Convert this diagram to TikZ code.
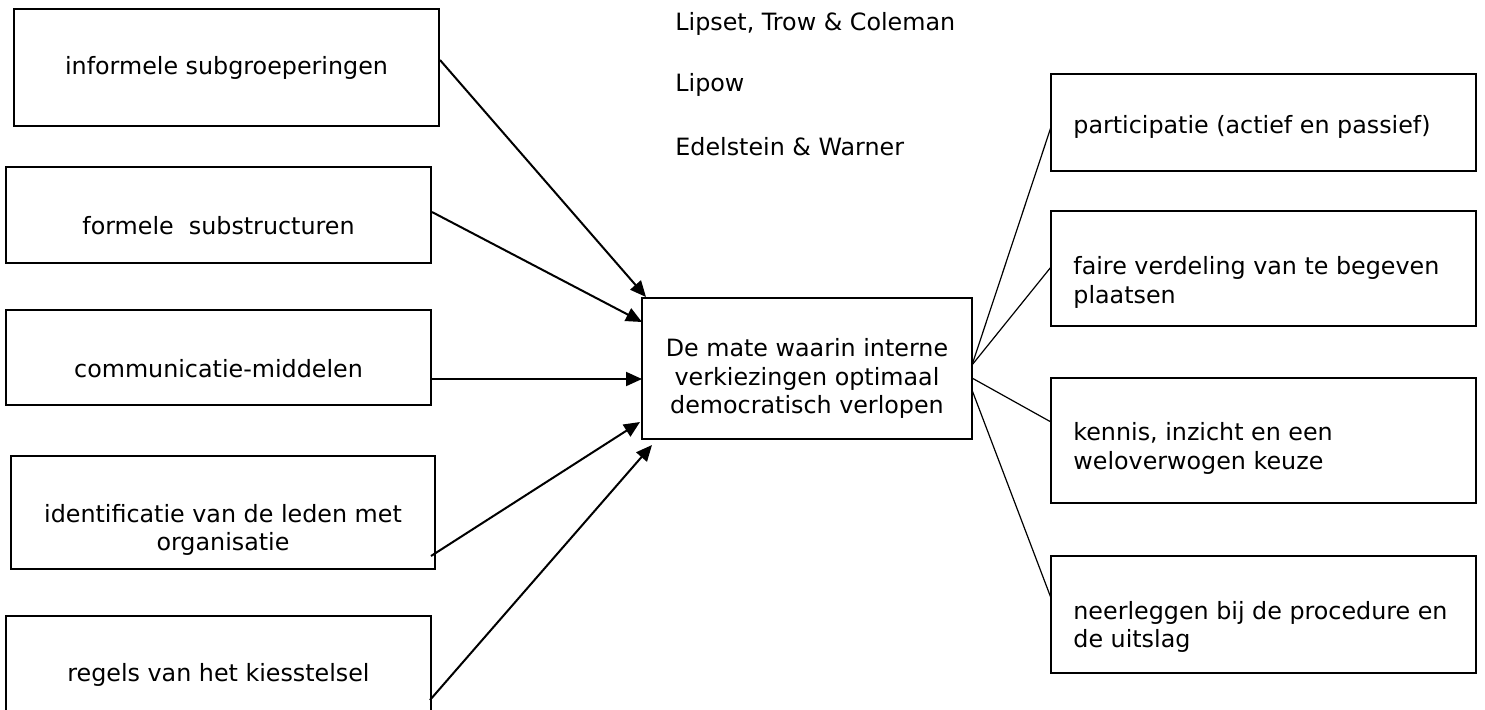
\documentclass[tikz,border=0pt]{standalone}
\usepackage{fontspec}
\setmainfont{DejaVu Sans}
\usetikzlibrary{arrows.meta}
\begin{document}
\begin{tikzpicture}[x=0.5pt,y=-0.5pt,
  boxnode/.style={draw=black,line width=0.8pt,minimum width=212.5pt,inner sep=0pt},
  txt/.style={font=\fontsize{11.9pt}{14.4pt}\selectfont,inner sep=0pt,align=center},
  ltxt/.style={txt,anchor=west,align=left},
  arr/.style={line width=1pt,-{Triangle[length=8pt,width=7pt]}},
  thin/.style={line width=0.6pt}]
\useasboundingbox (0,0) rectangle (1485,709);
\clip (0,0) rectangle (1485,709);
% left boxes
\node[boxnode,minimum height=58.5pt] (b1) at (226.5,67.5) {};
\node[txt] (t1) at (226.5,68) {informele subgroeperingen};
\node[boxnode,minimum height=48pt] (b2) at (218.5,215) {};
\node[txt] (t2) at (218.5,226) {formele\ \ substructuren};
\node[boxnode,minimum height=47.5pt] (b3) at (218.5,357.5) {};
\node[txt] (t3) at (218.5,369) {communicatie-middelen};
\node[boxnode,minimum height=56.5pt,minimum width=212pt] (b4) at (223,512.5) {};
\node[txt] (t4) at (223,530) {identificatie van de leden met\\organisatie};
\node[boxnode,minimum height=49pt] (b5) at (218.5,665) {};
\node[txt] (t5) at (218.5,675) {regels van het kiesstelsel};
% centre
\node[boxnode,minimum width=165pt,minimum height=70.5pt] (c) at (807,368.5) {};
\node[txt] (tc) at (807,378.5) {De mate waarin interne\\verkiezingen optimaal\\democratisch verlopen};
% authors
\node[ltxt] (a1) at (675,24) {Lipset, Trow \& Coleman};
\node[ltxt] (a2) at (675,85) {Lipow};
\node[ltxt] (a3) at (675,147) {Edelstein \& Warner};
% right boxes
\node[boxnode,minimum height=48.5pt] (r1) at (1263.5,122.5) {};
\node[ltxt] (s1) at (1073,127) {participatie (actief en passief)};
\node[boxnode,minimum height=57.5pt] (r2) at (1263.5,268.5) {};
\node[ltxt] (s2) at (1073,282.5) {faire verdeling van te begeven\\plaatsen};
\node[boxnode,minimum height=62.5pt] (r3) at (1263.5,440.5) {};
\node[ltxt] (s3) at (1073,448.5) {kennis, inzicht en een\\weloverwogen keuze};
\node[boxnode,minimum height=58.5pt] (r4) at (1263.5,614.5) {};
\node[ltxt] (s4) at (1073,627) {neerleggen bij de procedure en\\de uitslag};
% connector end points
\coordinate (p1) at (440,60);  \coordinate (q1) at (646,297);
\coordinate (p2) at (432,212); \coordinate (q2) at (642,322);
\coordinate (p3) at (432,379); \coordinate (q3) at (642,379);
\coordinate (p4) at (431,556); \coordinate (q4) at (640,422);
\coordinate (p5) at (430,700); \coordinate (q5) at (652,445);
\coordinate (o1) at (972,365); \coordinate (o3) at (972,378); \coordinate (o4) at (972,390);
\coordinate (e1) at (1051,127); \coordinate (e2) at (1051,267);
\coordinate (e3) at (1051,422); \coordinate (e4) at (1051,598);
\draw[arr] (p1) -- (q1);
\draw[arr] (p2) -- (q2);
\draw[arr] (p3) -- (q3);
\draw[arr] (p4) -- (q4);
\draw[arr] (p5) -- (q5);
\draw[thin] (o1) -- (e1);
\draw[thin] (o1) -- (e2);
\draw[thin] (o3) -- (e3);
\draw[thin] (o4) -- (e4);
\end{tikzpicture}
\end{document}
